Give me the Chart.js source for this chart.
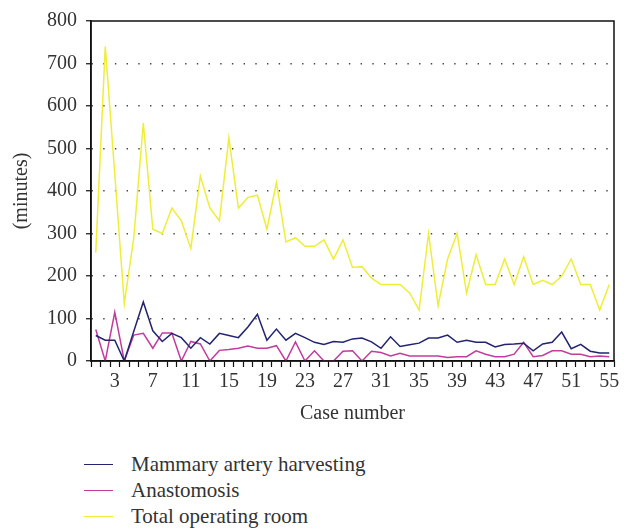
<!DOCTYPE html>
<html>
<head>
<meta charset="utf-8">
<script src="https://cdn.jsdelivr.net/npm/chart.js@4/dist/chart.umd.min.js"></script>
<style>
  html, body { margin: 0; padding: 0; background: #fff; }
  #wrap { position: relative; width: 630px; height: 531px; font-family: "Liberation Serif", "DejaVu Serif", serif; color: #333; }
  #box { position: absolute; left: 0; top: 0; width: 630px; height: 440px; }
  #legend { position: absolute; left: 84px; top: 451px; }
  .lg-row { height: 26px; display: flex; align-items: center; font-size: 21px; }
  .lg-line { width: 29px; height: 0; border-top: 1.5px solid; margin-right: 18px; }
</style>
</head>
<body>
<div id="wrap">
  <div id="box"><canvas id="chart"></canvas></div>
  <div id="legend"></div>
</div>
<script>
'use strict';

// ── Data ────────────────────────────────────────────
const cases = Array.from({ length: 55 }, (_, i) => String(i + 1));
const shownLabels = ['3', '7', '11', '15', '19', '23', '27', '31', '35', '39', '43', '47', '51', '55'];
const yTicks = [0, 100, 200, 300, 400, 500, 600, 700, 800];

const mammary = [60, 49, 49, 0, 70, 139, 71, 46, 65, 55, 30, 55, 40, 65, 60, 55, 80, 110, 49, 75,
    49, 65, 55, 44, 39, 46, 44, 52, 54, 45, 30, 57, 34, 38, 42, 54, 54, 61, 44, 49,
    44, 44, 33, 39, 40, 42, 24, 40, 44, 68, 29, 39, 23, 19, 19];
const anastomosis = [74, 0, 115, 0, 61, 65, 30, 66, 66, 0, 46, 40, 0, 25, 27, 30, 35, 30, 30, 36,
    0, 45, 0, 24, 0, 0, 23, 24, 0, 23, 20, 12, 18, 12, 12, 12, 12, 8, 10, 10,
    24, 16, 10, 10, 16, 44, 10, 13, 24, 24, 16, 16, 10, 12, 10];
const totalOR = [255, 740, 440, 135, 290, 560, 310, 300, 360, 330, 265, 435, 360, 330, 525, 360, 385, 390, 310, 420,
    280, 290, 270, 270, 285, 240, 285, 220, 222, 195, 180, 180, 180, 160, 120, 300, 130, 240, 300, 160,
    250, 180, 180, 240, 180, 245, 180, 190, 180, 200, 240, 180, 180, 120, 180];

const FONT = '"Liberation Serif", "DejaVu Serif", serif';
const TEXT = '#333';

// frame round the plot area (top and right sides)
const frame = {
    id: 'frame',
    afterDraw(chart) {
        const { ctx, chartArea: a } = chart;
        ctx.save();
        ctx.strokeStyle = '#111';
        ctx.lineWidth = 1.5;
        ctx.strokeRect(a.left, a.top, a.right - a.left, a.bottom - a.top);
        ctx.restore();
    }
};

function series(label, data, color) {
    return { label, data, borderColor: color, backgroundColor: color, borderWidth: 1.5, pointRadius: 0, tension: 0 };
}

const chart = new Chart(document.getElementById('chart'), {
    type: 'line',
    data: {
        labels: cases,
        datasets: [
            series('Mammary artery harvesting', mammary, '#232370'),
            series('Anastomosis', anastomosis, '#c23c9e'),
            series('Total operating room', totalOR, '#eeee3a'),
        ],
    },
    options: {
        responsive: true,
        maintainAspectRatio: false,
        animation: false,
        layout: { padding: { top: 10, right: 16, left: 0, bottom: 0 } },
        plugins: { legend: { display: false }, tooltip: { enabled: false } },
        scales: {
            x: {
                type: 'category',
                offset: true,
                grid: { offset: true, drawOnChartArea: false, tickLength: 6, tickColor: '#111', tickWidth: 1.2 },
                border: { color: '#111', width: 1.5 },
                ticks: {
                    autoSkip: false, maxRotation: 0, padding: 3, color: TEXT,
                    font: { family: FONT, size: 20 },
                    callback(v, i) { const l = cases[i]; return shownLabels.includes(l) ? l : ''; },
                },
                title: { display: true, text: 'Case number', color: TEXT, font: { family: FONT, size: 20 }, padding: { top: 0, bottom: 14 } },
                afterFit(s) { s.height = 79; },
            },
            y: {
                min: 0, max: 800,
                afterBuildTicks(s) { s.ticks = yTicks.map(v => ({ value: v })); },
                grid: {
                    color: ctx => (ctx.tick && (ctx.tick.value === 0 || ctx.tick.value === 800)) ? 'rgba(0,0,0,0)' : '#444',
                    lineWidth: 1.5, tickLength: 5, tickColor: '#111', tickWidth: 1.2, tickBorderDash: [],
                },
                border: { color: '#111', width: 1.5, dash: [1.4, 10.3] },
                ticks: { padding: 9, color: TEXT, font: { family: FONT, size: 20 } },
                title: { display: true, text: '(minutes)', color: TEXT, font: { family: FONT, size: 20 }, padding: { top: 10, bottom: 0 } },
                afterFit(s) { s.width = 91; },
            },
        },
    },
    plugins: [frame],
});

// vertical legend below the chart
document.getElementById('legend').innerHTML = chart.data.datasets.map(d =>
    `<div class="lg-row"><span class="lg-line" style="border-color:${d.borderColor}"></span>${d.label}</div>`
).join('');
</script>
</body>
</html>
